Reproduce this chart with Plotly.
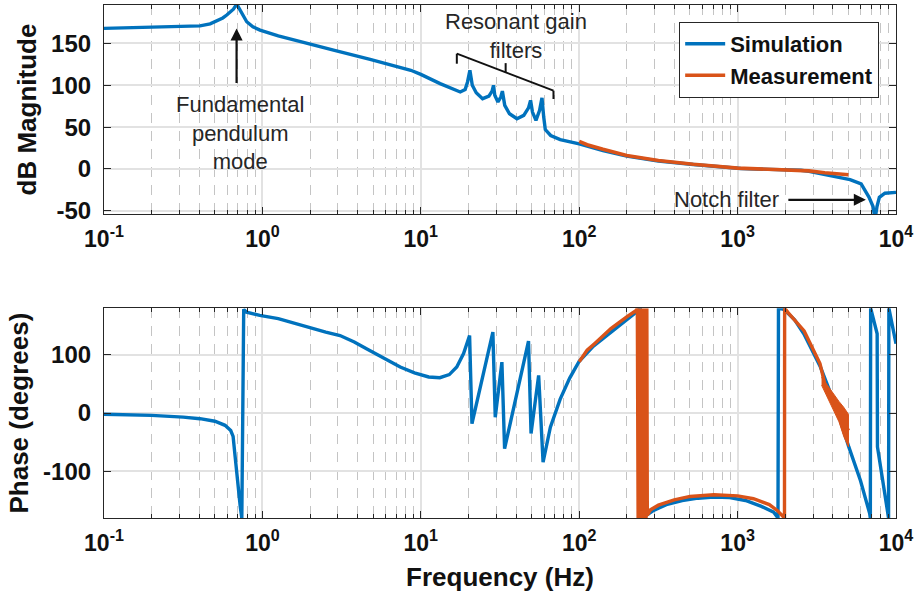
import numpy as np
import plotly.graph_objects as go
from plotly.subplots import make_subplots

# ---------------- data ----------------
# frequencies are stored as log10(Hz)
sim_mag_logf = [-1.0, -0.7, -0.5, -0.394, -0.33, -0.288, -0.25, -0.225, -0.2, -0.183, -0.162,
                -0.141, -0.12, -0.099, -0.06, -0.015, 0.1, 0.238, 0.449, 0.68, 0.937, 1.0,
                1.122, 1.249, 1.28, 1.295, 1.31, 1.325, 1.35, 1.39, 1.43, 1.45, 1.459,
                1.467, 1.487, 1.505, 1.515, 1.53, 1.56, 1.607, 1.65, 1.68, 1.693, 1.705,
                1.727, 1.75, 1.765, 1.776, 1.786, 1.82, 1.88, 2.0, 2.15, 2.3, 2.5, 2.72,
                2.85, 3.02, 3.2, 3.354, 3.4, 3.45, 3.5, 3.6, 3.71, 3.78, 3.8, 3.83, 3.855,
                3.868, 3.88, 3.895, 3.93, 3.97, 4.0]
sim_mag_db = [168, 169, 170, 171, 173.5, 177, 180.5, 184, 188, 191, 197,
              190, 181, 176, 170, 166, 159, 152, 142, 131, 118, 113,
              102, 92, 95, 104, 118, 100, 91, 84, 87, 93, 100,
              88, 80, 86, 93, 76, 66, 60, 64, 73, 82, 68,
              58, 70, 85, 62, 47, 40, 35, 30, 22, 15.3, 9.5, 5.3,
              3, 0.5, -0.5, -0.7, -1.6, -3, -4.8, -8.5, -12.8, -18, -25, -34, -45,
              -60, -45, -34, -29, -28, -28]

meas_mag_logf = [2.0, 2.05, 2.15, 2.3, 2.5, 2.72, 3.0, 3.2, 3.35, 3.45, 3.55, 3.65, 3.70]
meas_mag_db = [33, 29, 23.5, 16, 10, 5.5, 1, -0.3, -0.6, -2.3, -4.5, -6, -7]

sim_ph_logf = [-1.0, -0.7, -0.5, -0.394, -0.3, -0.236, -0.2, -0.185, -0.172, -0.16, -0.15,
               -0.14, -0.13, -0.118, -0.1, -0.017, 0.1, 0.2, 0.3, 0.4, 0.49, 0.58, 0.66,
               0.76, 0.87, 0.96, 1.05, 1.12, 1.18, 1.227, 1.27, 1.308, 1.323, 1.455, 1.47,
               1.512, 1.529, 1.68, 1.696, 1.744, 1.772, 1.818, 1.88, 1.94, 2.0, 2.09,
               2.175, 2.25, 2.3, 2.35, 2.386, 2.39, 2.42, 2.47, 2.55, 2.65, 2.75, 2.85,
               2.95, 3.05, 3.15, 3.228, 3.255, 3.258, 3.29, 3.30, 3.36, 3.418, 3.523,
               3.628, 3.702, 3.776, 3.834, 3.838, 3.840, 3.881, 3.883, 3.953, 3.955, 4.0]
sim_ph_deg = [-2, -4, -7, -9.6, -14, -21, -30, -40, -75, -110, -132,
              -160, -180, 178, 173, 167.6, 162, 154, 147.5, 139, 133, 122, 110,
              95, 79, 69, 62, 60.7, 66, 79, 102, 133, -18, 139, -7,
              87.5, -61, 123.5, -35, 64.7, -84, -24, 24, 60, 89, 115,
              133, 150, 160, 171, 180, -180, -176, -167, -157, -150, -146, -144,
              -145, -150, -160, -170, -180, 180, 178, 176, 160, 136, 79,
              5, -58, -116, -172.5, -180, 180, 136, -58, -180, 180, 119]

meas_ph_logf = [2.0, 2.05, 2.1, 2.2, 2.3, 2.36, 2.367, 2.372, 2.377, 2.382, 2.387, 2.392,
                2.397, 2.402, 2.407, 2.412, 2.417, 2.422, 2.427, 2.43, 2.45, 2.5, 2.6,
                2.7, 2.85, 3.0, 3.1, 3.2, 3.25, 3.29, 3.296, 3.297, 3.32, 3.42, 3.52,
                3.56, 3.6, 3.64, 3.67, 3.70]
meas_ph_deg = [88, 108, 120, 145, 165, 176, 180, -180, 180, -180, 180, -180,
               180, -180, 180, -180, 180, -180, 180, -175, -166, -158, -149,
               -143, -140, -142, -147, -157, -167, -178, -180, 180, 172, 141, 85,
               39, 21, 2, -15, -30]

# noisy envelope of the measurement phase at high frequency
noise_logf = [3.53, 3.56, 3.60, 3.64, 3.67, 3.70]
noise_hi = [62, 50, 35, 20, 10, -2]
noise_lo = [48, 28, 8, -15, -40, -58]

# ticks
x_tick_vals = [0.1, 1, 10, 100, 1000, 10000]
x_tick_text = ['10<sup>-1</sup>', '10<sup>0</sup>', '10<sup>1</sup>',
               '10<sup>2</sup>', '10<sup>3</sup>', '10<sup>4</sup>']
mag_tick_vals = [-50, 0, 50, 100, 150]
mag_tick_text = ['-50', '0', '50', '100', '150']
ph_tick_vals = [-100, 0, 100]
ph_tick_text = ['-100', '0', '100']

BLUE = '#0072BD'
ORANGE = '#D95319'
FONT = 'Liberation Sans, Arial, sans-serif'
AX = '#262626'

minor_vals = [m * 10.0 ** d for d in range(-1, 4) for m in range(2, 10)]

fig = make_subplots(rows=2, cols=1, vertical_spacing=0.0)

def hz(logs):
    return [10.0 ** v for v in logs]

fig.add_trace(go.Scatter(x=hz(sim_mag_logf), y=sim_mag_db, mode='lines', name='Simulation',
                         line=dict(color=BLUE, width=3.4)), row=1, col=1)
fig.add_trace(go.Scatter(x=hz(meas_mag_logf), y=meas_mag_db, mode='lines', name='Measurement',
                         line=dict(color=ORANGE, width=3.6)), row=1, col=1)
fig.add_trace(go.Scatter(x=hz(sim_ph_logf), y=sim_ph_deg, mode='lines', showlegend=False,
                         line=dict(color=BLUE, width=3.4)), row=2, col=1)
fig.add_trace(go.Scatter(x=hz(meas_ph_logf), y=meas_ph_deg, mode='lines', showlegend=False,
                         line=dict(color=ORANGE, width=3.4)), row=2, col=1)
fig.add_trace(go.Scatter(x=hz(noise_logf) + hz(noise_logf[::-1]), y=noise_hi + noise_lo[::-1],
                         mode='lines', fill='toself', fillcolor=ORANGE, showlegend=False,
                         line=dict(color=ORANGE, width=1)), row=2, col=1)

xcommon = dict(type='log', range=[-1, 4], tickvals=x_tick_vals, ticktext=x_tick_text,
               tickfont=dict(family=FONT, size=23, color='#111', weight='bold'),
               ticks='inside', ticklen=7, tickcolor=AX, showline=True, linecolor=AX,
               linewidth=1.2, mirror='allticks', showgrid=True, gridcolor='#e2e2e2',
               gridwidth=1.5, zeroline=False, ticklabelstandoff=4, automargin=False,
               minor=dict(tickvals=minor_vals, ticks='inside', ticklen=4, tickcolor=AX,
                          showgrid=True, gridcolor='#c4c4c4', gridwidth=1.3,
                          griddash='10px,8px'))
fig.update_xaxes(**xcommon)
fig.update_xaxes(row=2, col=1,
                 title=dict(text='Frequency (Hz)', standoff=13,
                            font=dict(family=FONT, size=26, color='#111', weight='bold')))

ycommon = dict(ticks='inside', ticklen=7, tickcolor=AX, showline=True, linecolor=AX,
               linewidth=1.2, mirror='allticks', showgrid=True, gridcolor='#e2e2e2',
               gridwidth=1.5, zeroline=False, automargin=False, ticklabelstandoff=7,
               tickfont=dict(family=FONT, size=24, color='#111', weight='bold'))
fig.update_yaxes(**ycommon)
fig.update_yaxes(row=1, col=1, range=[-54, 196], tickvals=mag_tick_vals, ticktext=mag_tick_text,
                 title=dict(text='dB Magnitude', standoff=6,
                            font=dict(family=FONT, size=26, color='#111', weight='bold')))
fig.update_yaxes(row=2, col=1, range=[-180, 180], tickvals=ph_tick_vals, ticktext=ph_tick_text,
                 title=dict(text='Phase (degrees)', standoff=6,
                            font=dict(family=FONT, size=26, color='#111', weight='bold')))

fig.update_layout(xaxis=dict(domain=[0, 1]), yaxis=dict(domain=[0.5924, 1.0]),
                  xaxis2=dict(domain=[0, 1]), yaxis2=dict(domain=[0.0, 0.409]))

ann_font = dict(family=FONT, size=22, color='#262626')
annotations = [
    dict(x=-0.141, y=43, xref='x', yref='y', text='Fundamental<br>pendulum<br>mode',
         showarrow=False, font=ann_font),
    dict(x=-0.163, y=168, xref='x', yref='y', ax=-0.163, ay=101, axref='x', ayref='y',
         text='', showarrow=True, arrowhead=2, arrowsize=1.1, arrowwidth=2.2, arrowcolor='#111'),
    dict(x=1.5995, y=158.7, xref='x', yref='y', text='Resonant gain<br>filters',
         showarrow=False, font=ann_font),
    dict(x=2.929, y=-36.9, xref='x', yref='y', text='Notch filter',
         showarrow=False, font=ann_font),
    dict(x=3.81, y=-36.9, xref='x', yref='y', ax=3.311, ay=-36.9, axref='x', ayref='y',
         text='', showarrow=True, arrowhead=2, arrowsize=1.1, arrowwidth=2.2, arrowcolor='#111'),
]
fig.update_layout(annotations=annotations)

br = dict(type='line', xref='x', yref='y', line=dict(color='#111', width=2))
shapes = [
    dict(br, x0=10 ** 1.2274, y0=137.8, x1=10 ** 1.8377, y1=93.6),
    dict(br, x0=10 ** 1.2274, y0=137.8, x1=10 ** 1.2274, y1=125.8),
    dict(br, x0=10 ** 1.8377, y0=93.6, x1=10 ** 1.8377, y1=83.6),
    dict(br, x0=10 ** 1.5357, y0=115.5, x1=10 ** 1.5357, y1=126.5),
]
fig.update_layout(shapes=shapes)

fig.update_layout(
    width=919, height=599, margin=dict(l=104, r=23, t=5, b=81, autoexpand=False),
    paper_bgcolor='white', plot_bgcolor='white',
    font=dict(family=FONT, color='#111'),
    legend=dict(x=0.9785, y=0.9674, xanchor='right', yanchor='top',
                bgcolor='white', bordercolor=AX, borderwidth=1.2,
                font=dict(family=FONT, size=22, color='#111', weight='bold'),
                tracegroupgap=0, itemwidth=40),
)

fig.write_html('out.html', config={'displayModeBar': False},
               post_script="document.body.style.margin='0px';document.body.style.overflow='hidden';")
